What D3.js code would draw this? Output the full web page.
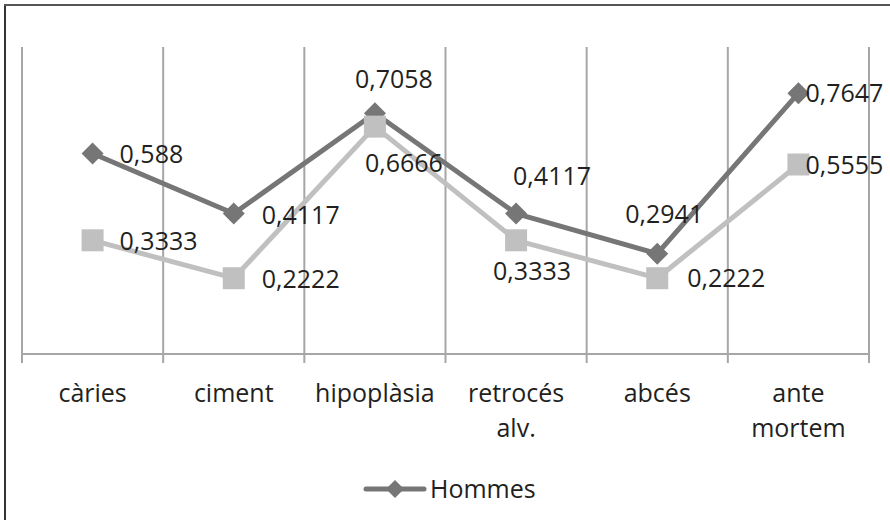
<!DOCTYPE html>
<html>
<head>
<meta charset="utf-8">
<script src="https://cdn.jsdelivr.net/npm/d3@7"></script>
<style>
  html, body { margin: 0; padding: 0; background: #fff; }
  svg { display: block; }
  text { font-family: "Open Sans", "Noto Sans", sans-serif; fill: #231f20; }
</style>
</head>
<body>
<svg id="chart" width="890" height="520"></svg>
<script>
// ---- data ----
const categories = ["càries", "ciment", "hipoplàsia", "retrocés alv.", "abcés", "ante mortem"];
const hommes = [0.588, 0.4117, 0.7058, 0.4117, 0.2941, 0.7647];
const femmes = [0.3333, 0.2222, 0.6666, 0.3333, 0.2222, 0.5555];
const seriesNames = ["Hommes", "Femmes"];

// ---- layout (label offsets relative to marker: left x, baseline y) ----
const hommesLabelOffset = [[27, 10], [28, 10], [-20, -25], [-3, -29], [-32, -31], [7, 9]];
const femmesLabelOffset = [[27, 10], [28, 10], [-10, 45], [-23, 40], [30, 9], [7, 9]];

const svg = d3.select("#chart");
const W = 890, H = 520;
const plot = { left: 22, right: 869, top: 47, bottom: 354 };

const x = d3.scaleBand().domain(categories).range([plot.left, plot.right]).paddingInner(0).paddingOuter(0);
const y = d3.scaleLinear().domain([0, 0.9]).range([plot.bottom, plot.top]);
const cx = c => x(c) + x.bandwidth() / 2;

// outer frame (left and top edges visible)
svg.append("line").attr("x1", 5).attr("x2", 5).attr("y1", 4).attr("y2", H)
  .attr("stroke", "#333").attr("stroke-width", 2);
svg.append("line").attr("x1", 4).attr("x2", W).attr("y1", 5).attr("y2", 5)
  .attr("stroke", "#555").attr("stroke-width", 2);

// vertical gridlines at category boundaries
const bounds = categories.map(c => x(c)).concat([plot.right]);
svg.append("g").selectAll("line").data(bounds).join("line")
  .attr("x1", d => d).attr("x2", d => d)
  .attr("y1", plot.top).attr("y2", plot.bottom + 9)
  .attr("stroke", "#a6a6a6").attr("stroke-width", 2);

// x axis line
svg.append("line").attr("x1", plot.left).attr("x2", plot.right)
  .attr("y1", plot.bottom).attr("y2", plot.bottom)
  .attr("stroke", "#a6a6a6").attr("stroke-width", 2);

// x axis labels via d3 axis
const xAxis = svg.append("g").attr("transform", `translate(0,${plot.bottom})`)
  .call(d3.axisBottom(x).tickSize(0).tickPadding(0));
xAxis.select(".domain").remove();
xAxis.selectAll(".tick text")
  .attr("font-size", 25)
  .attr("fill", "#231f20")
  .attr("dy", null)
  .attr("y", 48)
  .each(function(d) {
    const t = d3.select(this);
    const words = d.split(" ");
    t.text(null);
    let line = [];
    let tspan = t.append("tspan").attr("x", 0).attr("y", 48);
    let lineNo = 0;
    words.forEach(w => {
      line.push(w);
      tspan.text(line.join(" "));
      if (tspan.node().getComputedTextLength() > 135 && line.length > 1) {
        line.pop();
        tspan.text(line.join(" "));
        line = [w];
        lineNo++;
        tspan = t.append("tspan").attr("x", 0).attr("y", 48 + lineNo * 35).text(w);
      }
    });
  });

const line = d3.line().x((d, i) => cx(categories[i])).y(d => y(d));

const series = [
  { name: seriesNames[0], values: hommes, color: "#767676", marker: "diamond", offsets: hommesLabelOffset },
  { name: seriesNames[1], values: femmes, color: "#c0c0c0", marker: "square", offsets: femmesLabelOffset }
];

series.forEach(s => {
  svg.append("path").datum(s.values)
    .attr("d", line).attr("fill", "none")
    .attr("stroke", s.color).attr("stroke-width", 5).attr("stroke-linejoin", "round");
  const g = svg.append("g");
  s.values.forEach((v, i) => {
    const px = cx(categories[i]), py = y(v);
    if (s.marker === "diamond") {
      g.append("path").attr("d", `M${px},${py - 11}L${px + 11},${py}L${px},${py + 11}L${px - 11},${py}Z`)
        .attr("fill", s.color);
    } else {
      g.append("rect").attr("x", px - 11).attr("y", py - 11).attr("width", 22).attr("height", 22)
        .attr("fill", s.color);
    }
  });
});

// data labels
series.forEach(s => {
  svg.append("g").selectAll("text").data(s.values).join("text")
    .attr("x", (d, i) => cx(categories[i]) + s.offsets[i][0])
    .attr("y", (d, i) => y(d) + s.offsets[i][1])
    .attr("font-size", 25)
    .text(d => String(d).replace(".", ","));
});

// legend (only first series shown)
const lg = svg.append("g");
lg.append("line").attr("x1", 366).attr("x2", 424).attr("y1", 489).attr("y2", 489)
  .attr("stroke", series[0].color).attr("stroke-width", 5).attr("stroke-linecap", "round");
lg.append("path").attr("d", "M395,480L404,489L395,498L386,489Z").attr("fill", series[0].color);
lg.append("text").attr("x", 430).attr("y", 498).attr("font-size", 25).text(series[0].name);
</script>
</body>
</html>
